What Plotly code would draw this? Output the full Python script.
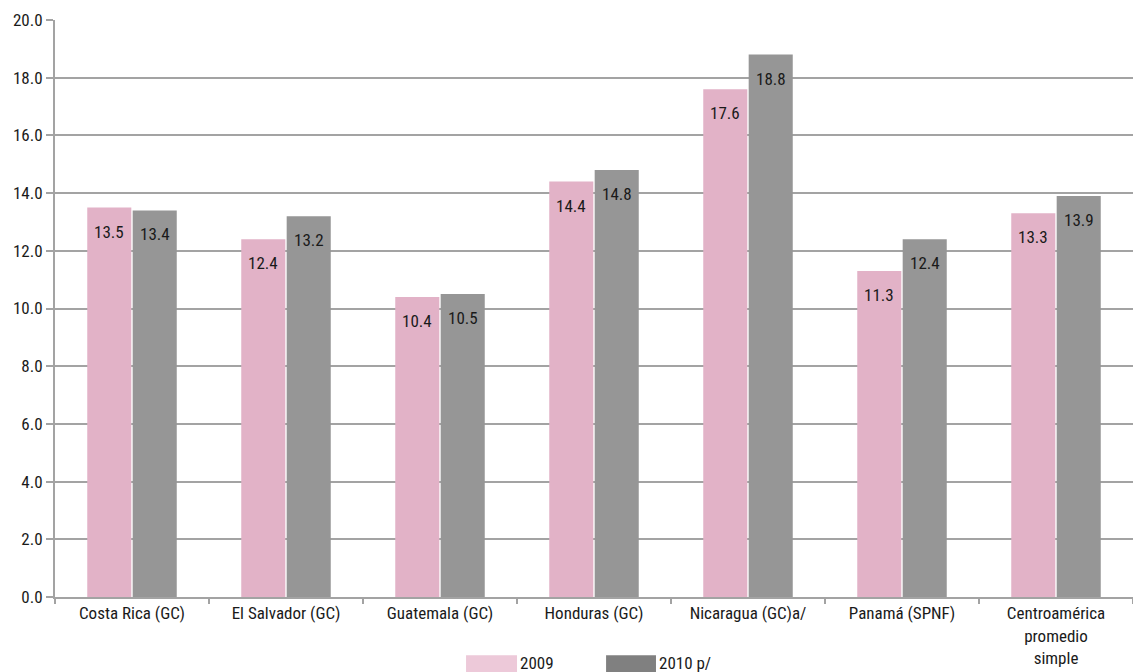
import plotly.graph_objects as go

# Data
categories = [
    "Costa Rica (GC)",
    "El Salvador (GC)",
    "Guatemala (GC)",
    "Honduras (GC)",
    "Nicaragua (GC)a/",
    "Panamá (SPNF)",
    "Centroamérica<br>promedio<br>simple",
]
values_2009 = [13.5, 12.4, 10.4, 14.4, 17.6, 11.3, 13.3]
values_2010 = [13.4, 13.2, 10.5, 14.8, 18.8, 12.4, 13.9]
series_names = ["2009", "2010 p/"]
y_ticks = [0, 2, 4, 6, 8, 10, 12, 14, 16, 18, 20]

FONT = "Liberation Sans Narrow, Roboto Condensed, Roboto, sans-serif"
FS = 17
PINK, GREY = "#e2b2c7", "#969696"
PINK_KEY, GREY_KEY = "#edc9d9", "#808080"
AXIS_GREY = "#a3a3a3"
TXT = "#1a1a1a"

fig = go.Figure()
fig.add_trace(go.Bar(x=categories, y=values_2009, name=series_names[0],
                     marker=dict(color=PINK, line=dict(width=0)), showlegend=False))
fig.add_trace(go.Bar(x=categories, y=values_2010, name=series_names[1],
                     marker=dict(color=GREY, line=dict(width=0)), showlegend=False))

# value labels just inside the top of each bar
for vals, dx in ((values_2009, -23), (values_2010, 23)):
    for cat, v in zip(categories, vals):
        fig.add_annotation(x=cat, y=v, xref="x", yref="y", text=f"{v:.1f}",
                           showarrow=False, xshift=dx, yshift=-24,
                           yanchor="middle", xanchor="center",
                           font=dict(family=FONT, size=FS, color=TXT))

# legend keys drawn below the axis
for (x0, x1, tx, col, label) in ((0.3813, 0.4286, 0.4296, PINK_KEY, series_names[0]),
                                 (0.5112, 0.5575, 0.5585, GREY_KEY, series_names[1])):
    fig.add_shape(type="rect", xref="paper", yref="paper", x0=x0, x1=x1,
                  y0=-0.14, y1=-0.101, fillcolor=col, line=dict(width=0), layer="above")
    fig.add_annotation(xref="paper", yref="paper", x=tx, y=-0.114, text=label,
                       showarrow=False, xanchor="left", yanchor="middle",
                       font=dict(family=FONT, size=FS, color=TXT))

fig.update_layout(
    width=1133, height=672,
    margin=dict(l=55, r=0, t=20, b=75),
    paper_bgcolor="white", plot_bgcolor="white",
    barmode="group", bargap=0.41, bargroupgap=0.03,
    font=dict(family=FONT, size=FS, color=TXT),
    xaxis=dict(
        showline=True, linecolor=AXIS_GREY, linewidth=2,
        ticks="outside", tickson="boundaries", ticklen=5, tickcolor=AXIS_GREY, tickwidth=2,
        showgrid=False, tickfont=dict(family=FONT, size=FS, color=TXT),
    ),
    yaxis=dict(
        range=[0, 20], tickvals=y_ticks, ticktext=[f"{t:.1f}" for t in y_ticks],
        showline=True, linecolor=AXIS_GREY, linewidth=2,
        ticks="outside", ticklen=7, tickcolor=AXIS_GREY, tickwidth=2,
        showgrid=True, gridcolor=AXIS_GREY, gridwidth=2, zeroline=False,
        tickfont=dict(family=FONT, size=FS, color=TXT),
    ),
    showlegend=False,
)

fig.write_html("out.html")
